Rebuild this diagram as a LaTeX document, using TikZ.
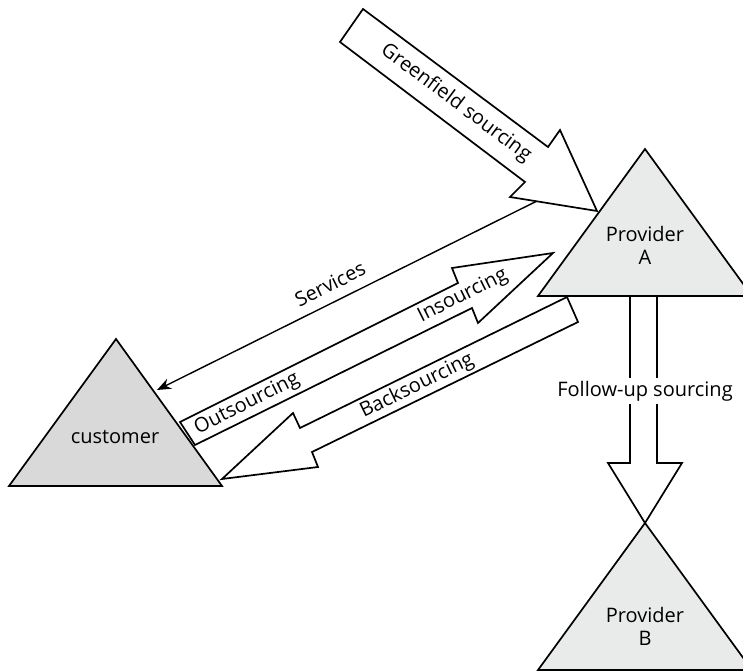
\documentclass[tikz,border=0pt]{standalone}
\usepackage{fontspec}
\setmainfont{Open Sans}
\usetikzlibrary{arrows.meta}
\definecolor{custgray}{HTML}{D9D9D9}
\definecolor{provgray}{HTML}{E9EAEA}
\tikzset{
  outline/.style={draw=black, line width=1.7pt, line join=miter},
  blockarrow/.style={outline, fill=white},
  tri/.style={outline},
  lbl/.style={font=\fontsize{20}{23}\selectfont, inner sep=1pt},
}
\begin{document}
\begin{tikzpicture}[x=1pt,y=-1pt]
\clip (0,0) rectangle (743,671);
\fill[white] (0,0) rectangle (743,671);
% coordinates
\coordinate (srvS) at (537,201);
\coordinate (srvE) at (157,390);
% Services connector
\draw[line width=1.4pt, -{Stealth[length=14pt,width=11pt]}] (srvS) -- (srvE);
% Greenfield sourcing arrow
\draw[blockarrow] (363,9) -- (548,147) -- (560,130) -- (597,211) -- (510,197) -- (525,182) -- (340,42) -- cycle;
% Insourcing / Outsourcing arrow
\draw[blockarrow] (180,422) -- (458,283) -- (452,268) -- (553,253) -- (478,323) -- (472,308) -- (195,445) -- cycle;
% Backsourcing arrow
\draw[blockarrow] (567,297) -- (578,322) -- (312,452) -- (318,467) -- (222,479) -- (293,413) -- (300,428) -- cycle;
% Follow-up sourcing arrow
\draw[blockarrow] (630,296) -- (630,463) -- (608,463) -- (645,523) -- (682,463) -- (657,463) -- (657,296);
% Triangles
\draw[tri, fill=custgray] (116,339) -- (222,486) -- (9,486) -- cycle;
\draw[tri, fill=provgray] (645,149) -- (752,296) -- (538,296) -- cycle;
\draw[tri, fill=provgray] (645,523) -- (752,670) -- (538,670) -- cycle;
% Labels
\node[lbl] (cust) at (115,437) {customer};
\node[lbl, align=center] (provA) at (645,245) {Provider\\A};
\node[lbl, align=center] (provB) at (645,626) {Provider\\B};
\node[lbl, rotate=-36.7] (green) at (456,103) {Greenfield sourcing};
\node[lbl, rotate=26.4] (serv) at (330,284) {Services};
\node[lbl, rotate=26.6] (insrc) at (463,296) {Insourcing};
\node[lbl, rotate=26.6] (outsrc) at (247,404) {Outsourcing};
\node[lbl, rotate=26] (backsrc) at (417,386) {Backsourcing};
\node[lbl, fill=white, inner sep=3pt] (follow) at (645,391) {Follow-up sourcing};
\end{tikzpicture}
\end{document}
